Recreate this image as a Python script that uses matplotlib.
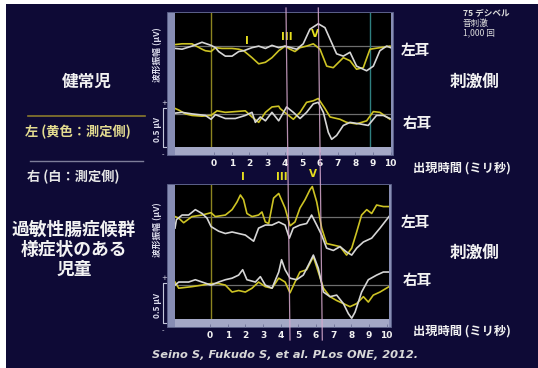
import matplotlib
matplotlib.use("Agg")
import matplotlib.pyplot as plt
from matplotlib.lines import Line2D
from matplotlib.patches import Rectangle

plt.rcParams["font.family"] = ["Noto Sans CJK JP", "DejaVu Sans"]

W, H = 538, 368
NAVY = "#0e0a36"
FRAME = "#878db4"
STRIP = "#a4a8c6"
YELLOW = "#cdc324"
WHITE_TRACE = "#d6d6d6"
BASE_GREY = "#6e6e6e"
OLIVE = "#8c8420"
TEAL = "#2f7f80"
PINK = "#d7a9cf"
TXT = "#f2f2f2"

TICK_MS = list(range(0, 11))
EAR_OFFSETS = [0.0, -0.88]   # 左耳 on top, 右耳 below (µV)

# ── healthy children: left ear (top) ─────────────────────────────────────────
hc_left_yel_t = [-2.2, -1.81, -1.25, -0.68, -0.49, -0.17, 0.08, 0.45, 1.02, 1.40, 1.68,
                 2.15, 2.53, 2.91, 3.28, 3.66, 4.02, 4.30, 4.58, 4.87, 5.24, 5.62, 6.0,
                 6.38, 6.75, 7.32, 7.70, 8.07, 8.45, 8.83, 9.39, 9.96]
hc_left_yel_v = [0.02, 0.03, 0.03, -0.04, -0.06, -0.07, -0.02, -0.03, -0.03, -0.04, -0.06,
                 -0.15, -0.23, -0.21, -0.15, -0.06, 0.0, -0.04, -0.07, -0.02, 0.0, 0.03, -0.04,
                 -0.26, -0.28, -0.15, -0.19, -0.30, -0.28, -0.04, -0.02, 0.0]
hc_left_wht_t = [-2.2, -1.81, -1.25, -0.68, -0.17, 0.08, 0.26, 0.64, 1.02, 1.40, 1.68, 2.15,
                 2.53, 2.91, 3.28, 3.66, 4.02, 4.68, 5.05, 5.43, 5.90, 6.28, 6.57, 6.94,
                 7.32, 7.70, 8.07, 8.64, 9.02, 9.39, 9.77, 10.0]
hc_left_wht_v = [-0.03, -0.04, 0.0, 0.05, 0.01, -0.02, -0.07, -0.13, -0.13, -0.07, -0.06, -0.02,
                 0.0, -0.03, 0.01, -0.02, 0.0, -0.04, 0.03, 0.22, 0.29, 0.24, 0.09, -0.10,
                 -0.13, -0.08, -0.26, -0.32, -0.26, -0.06, 0.0, -0.02]

# ── healthy children: right ear (bottom) ─────────────────────────────────────
hc_right_yel_t = [-2.2, -2.0, -1.62, -1.25, -0.68, -0.17, 0.17, 0.64, 1.21, 1.77, 2.15, 2.53,
                  2.91, 3.28, 3.66, 3.74, 4.11, 4.49, 4.87, 5.24, 5.62, 5.90, 6.28, 6.57,
                  7.13, 7.51, 8.07, 8.64, 9.02, 9.39, 9.96]
hc_right_yel_v = [0.07, 0.05, 0.0, -0.02, -0.03, -0.02, 0.04, 0.02, 0.03, 0.04, -0.04, -0.11,
                  0.02, 0.09, 0.10, 0.07, 0.0, -0.07, 0.02, 0.15, 0.17, 0.20, 0.07, -0.04,
                  -0.07, -0.11, -0.13, -0.09, 0.03, 0.02, -0.07]
hc_right_wht_t = [-2.2, -1.81, -1.25, -0.49, -0.17, 0.08, 0.64, 1.21, 1.77, 2.15, 2.34, 2.62,
                  2.91, 3.28, 3.66, 4.11, 4.49, 4.87, 5.24, 5.62, 5.90, 6.19, 6.47, 6.66,
                  6.94, 7.32, 7.70, 8.26, 8.73, 9.20, 9.58, 9.96]
hc_right_wht_v = [0.01, 0.02, 0.0, -0.02, -0.07, -0.01, -0.06, -0.06, -0.02, 0.02, -0.11, -0.04,
                  -0.09, 0.02, -0.09, 0.09, 0.02, -0.06, 0.02, 0.13, 0.15, 0.02, -0.24, -0.33,
                  -0.28, -0.15, -0.11, -0.13, -0.15, -0.02, -0.02, -0.06]

# ── IBS-like children: left ear (top) ────────────────────────────────────────
ibs_left_yel_t = [-1.98, -1.77, -1.49, -1.02, -0.45, 0.06, 0.30, 0.87, 1.25, 1.53, 1.72, 1.90,
                  2.09, 2.38, 2.75, 2.94, 3.13, 3.32, 3.60, 3.89, 4.25, 4.53, 4.81, 5.09,
                  5.38, 5.66, 5.79, 6.04, 6.32, 6.60, 6.98, 7.36, 7.73, 8.02, 8.30, 8.58,
                  8.87, 9.15, 9.43, 9.81, 10.13]
ibs_left_yel_v = [0.01, -0.01, -0.07, 0.01, 0.03, 0.06, 0.01, 0.03, 0.10, 0.20, 0.29, 0.23,
                  0.05, 0.01, 0.03, 0.07, -0.06, -0.08, 0.25, 0.31, 0.12, -0.11, -0.06, 0.12,
                  0.23, 0.36, 0.40, 0.20, -0.14, -0.34, -0.36, -0.38, -0.49, -0.40, -0.19, 0.03,
                  0.10, 0.05, 0.16, 0.14, 0.14]
ibs_left_wht_t = [-1.98, -1.90, -1.58, -1.21, -0.83, -0.45, -0.17, 0.06, 0.49, 0.87, 1.25, 1.62,
                  2.0, 2.47, 2.75, 3.13, 3.51, 3.89, 4.25, 4.49, 4.71, 5.09, 5.47, 5.75,
                  6.04, 6.32, 6.60, 6.98, 7.36, 7.73, 8.02, 8.30, 8.68, 9.15, 9.62, 10.13]
ibs_left_wht_v = [-0.14, -0.03, 0.03, 0.03, 0.10, 0.05, -0.01, -0.12, -0.18, -0.21, -0.19, -0.21,
                  -0.23, -0.31, -0.14, -0.10, -0.10, -0.06, -0.10, -0.27, -0.14, -0.10, -0.08, 0.03,
                  -0.10, -0.23, -0.40, -0.43, -0.38, -0.45, -0.49, -0.40, -0.32, -0.27, -0.14, 0.01]

# ── IBS-like children: right ear (bottom) ────────────────────────────────────
ibs_right_yel_t = [-1.98, -1.77, -1.40, -1.02, -0.45, 0.06, 0.49, 0.87, 1.25, 1.62, 2.0, 2.38,
                   2.75, 3.13, 3.51, 3.89, 4.25, 4.53, 4.81, 5.09, 5.47, 5.85, 6.13, 6.42,
                   6.79, 7.17, 7.55, 7.92, 8.30, 8.68, 8.96, 9.24, 9.62, 10.13]
ibs_right_yel_v = [0.04, -0.04, -0.03, -0.02, 0.0, 0.02, 0.02, 0.0, -0.09, -0.07, -0.09, -0.04,
                   0.04, -0.02, -0.04, 0.09, 0.04, -0.10, 0.04, 0.17, 0.20, 0.37, 0.17, -0.04,
                   -0.15, -0.20, -0.24, -0.28, -0.24, -0.15, -0.22, -0.13, -0.09, -0.02]
ibs_right_wht_t = [-1.98, -1.77, -1.21, -0.83, -0.45, 0.06, 0.49, 0.87, 1.25, 1.62, 1.85, 2.09,
                   2.57, 2.85, 3.13, 3.51, 3.89, 4.05, 4.25, 4.53, 4.90, 5.28, 5.57, 5.85,
                   6.13, 6.42, 6.79, 7.17, 7.55, 7.83, 8.02, 8.21, 8.58, 8.96, 9.43, 9.81, 10.13]
ibs_right_wht_v = [0.0, 0.04, 0.04, 0.07, 0.04, 0.0, 0.04, 0.07, 0.09, 0.13, 0.20, 0.07,
                   0.04, 0.11, 0.0, -0.04, 0.17, 0.33, 0.20, 0.09, 0.07, 0.13, 0.26, 0.39,
                   0.22, -0.09, -0.15, -0.13, -0.24, -0.37, -0.43, -0.35, -0.09, 0.07, 0.13, 0.17, 0.17]

WAVE_LABELS = ["I", "III", "V"]


def rect(x0, y0, x1, y1):
    """pixel box -> figure fraction [left, bottom, width, height]"""
    return [x0 / W, 1 - y1 / H, (x1 - x0) / W, (y1 - y0) / H]


def fx(x):
    return x / W


def fy(y):
    return 1 - y / H


def ftext(fig, x, y, s, **kw):
    kw.setdefault("color", TXT)
    kw.setdefault("ha", "center")
    kw.setdefault("va", "center")
    fig.text(fx(x), fy(y), s, **kw)


def fline(fig, xs, ys, **kw):
    fig.add_artist(Line2D([fx(x) for x in xs], [fy(y) for y in ys],
                          transform=fig.transFigure, **kw))


def draw_panel(fig, box, xlim, ylim, traces, onset, label_pos, label_y, extra_vlines=()):
    x0, y0, x1, y1 = box
    fig.add_artist(Rectangle((fx(x0 - 8), fy(y1 + 8)), (x1 - x0 + 10) / W, (y1 - y0 + 9) / H,
                             transform=fig.transFigure, facecolor=FRAME,
                             edgecolor="#5d628a", lw=0.6, zorder=-1))

    ax = fig.add_axes(rect(x0, y0, x1, y1))
    ax.set_facecolor("black")
    ax.set_xlim(*xlim)
    ax.set_ylim(*ylim)
    ax.set_xticks([])
    ax.set_yticks([])
    for sp in ax.spines.values():
        sp.set_visible(False)

    for off in EAR_OFFSETS:
        ax.axhline(off, color=BASE_GREY, lw=0.9, zorder=1)
    ax.axvline(onset, color=OLIVE, lw=1.0, zorder=1)
    for xv, col in extra_vlines:
        ax.axvline(xv, color=col, lw=1.0, zorder=1)

    for (t, v, col), off in zip(traces, [EAR_OFFSETS[0]] * 2 + [EAR_OFFSETS[1]] * 2):
        ax.plot(t, [a + off for a in v], color=col, lw=1.2, zorder=3, solid_joinstyle="round")

    for lab, xp, yp in zip(WAVE_LABELS, label_pos, label_y):
        ax.text(xp, yp, lab, color="#e6de1e", fontsize=7.5, fontweight="bold",
                ha="center", va="center", family="DejaVu Sans", clip_on=False)

    # time strip with the ms ticks
    st = fig.add_axes(rect(x0, y1, x1, y1 + 8))
    st.set_facecolor(STRIP)
    st.set_xlim(*xlim)
    st.set_ylim(0, 1)
    st.set_yticks([])
    st.set_xticks(TICK_MS)
    st.set_xticklabels([str(v) for v in TICK_MS], color=TXT, fontsize=6.5,
                       fontweight="bold", family="DejaVu Sans")
    st.tick_params(axis="x", direction="in", length=2.5, width=0.6, color="#6d7196", pad=3)
    for sp in st.spines.values():
        sp.set_visible(False)
    return ax


fig = plt.figure(figsize=(W / 100, H / 100), dpi=100)
fig.patch.set_facecolor("white")
fig.add_artist(Rectangle((fx(6), 0), 1 - fx(6), fy(4), transform=fig.transFigure,
                         facecolor=NAVY, edgecolor="none", zorder=-2))

draw_panel(
    fig, (175, 13, 391, 147), (-2.21, 10.02), (-1.31, 0.43),
    [(hc_left_yel_t, hc_left_yel_v, YELLOW), (hc_left_wht_t, hc_left_wht_v, WHITE_TRACE),
     (hc_right_yel_t, hc_right_yel_v, YELLOW), (hc_right_wht_t, hc_right_wht_v, WHITE_TRACE)],
    onset=-0.17, label_pos=[1.85, 4.1, 5.7], label_y=[0.07, 0.12, 0.16],
    extra_vlines=[(8.85, TEAL)],
)
draw_panel(
    fig, (175, 185, 389, 319), (-1.98, 10.13), (-1.32, 0.42),
    [(ibs_left_yel_t, ibs_left_yel_v, YELLOW), (ibs_left_wht_t, ibs_left_wht_v, WHITE_TRACE),
     (ibs_right_yel_t, ibs_right_yel_v, YELLOW), (ibs_right_wht_t, ibs_right_wht_v, WHITE_TRACE)],
    onset=0.06, label_pos=[1.87, 4.06, 5.8], label_y=[0.52, 0.52, 0.56],
)

# latency markers running through both panels
for xa, xb in [(286.0, 290.0), (318.3, 322.3)]:
    fline(fig, [xa, xb], [8, 340], color=PINK, lw=0.9, alpha=0.85, zorder=10)

# amplitude label and 0.5 µV scale bar
for ylab, ybar in [(55, (108, 147)), (230, (283, 323))]:
    ftext(fig, 157, ylab, "波形振幅 (μV)", fontsize=6.3, rotation=90, fontweight="bold",
          color="#dcdcec")
    ftext(fig, 157, (ybar[0] + ybar[1]) / 2 + 2, "0.5 μV", fontsize=6, rotation=90,
          fontweight="bold", color="#dcdcec")
    fline(fig, [166, 163, 163, 166], [ybar[0], ybar[0], ybar[1], ybar[1]],
          color="#c4c6da", lw=0.8, zorder=5)
    ftext(fig, 164, ybar[0] - 5, "+", fontsize=5, color="#dcdcec", family="DejaVu Sans")
    ftext(fig, 163, ybar[1] + 7, "-", fontsize=5, color="#dcdcec", family="DejaVu Sans")

# right-hand labels
ftext(fig, 415, 50, "左耳", fontsize=10.5, fontweight="bold")
ftext(fig, 417, 123, "右耳", fontsize=10.5, fontweight="bold")
ftext(fig, 475, 82, "刺激側", fontsize=12, fontweight="bold")
ftext(fig, 415, 222, "左耳", fontsize=10.5, fontweight="bold")
ftext(fig, 417, 280, "右耳", fontsize=10.5, fontweight="bold")
ftext(fig, 475, 253, "刺激側", fontsize=12, fontweight="bold")
ftext(fig, 462, 168, "出現時間 (ミリ秒)", fontsize=8.8, fontweight="bold")
ftext(fig, 462, 331, "出現時間 (ミリ秒)", fontsize=8.8, fontweight="bold")

ftext(fig, 463, 13, "75 デシベル", fontsize=6.2, ha="left", fontweight="bold", color="#dadada")
ftext(fig, 463, 23, "音刺激", fontsize=6.2, ha="left", color="#dadada")
ftext(fig, 463, 33, "1,000 回", fontsize=6.2, ha="left", color="#dadada")

# left-hand group legend
ftext(fig, 87, 82, "健常児", fontsize=12, fontweight="bold")
fline(fig, [28, 145], [116, 116], color="#8a7a2c", lw=1.2)
ftext(fig, 78, 132, "左 (黄色：測定側)", fontsize=9.5, fontweight="bold", color="#e3dc90")
fline(fig, [30, 143], [161, 161], color="#7d7d99", lw=1.0)
ftext(fig, 73, 177, "右 (白：測定側)", fontsize=9.5, fontweight="bold", color="#e6e6e6")

ftext(fig, 74, 230, "過敏性腸症候群", fontsize=12.8, fontweight="bold")
ftext(fig, 74, 250, "様症状のある", fontsize=12.8, fontweight="bold")
ftext(fig, 74, 270, "児童", fontsize=12.8, fontweight="bold")

ftext(fig, 285, 355, "Seino S, Fukudo S, et al. PLos ONE, 2012.", fontsize=8.2,
      fontweight="bold", style="italic", family="DejaVu Sans", color="#d8d8d8")

fig.savefig("out.png", dpi=100, facecolor=fig.get_facecolor())
